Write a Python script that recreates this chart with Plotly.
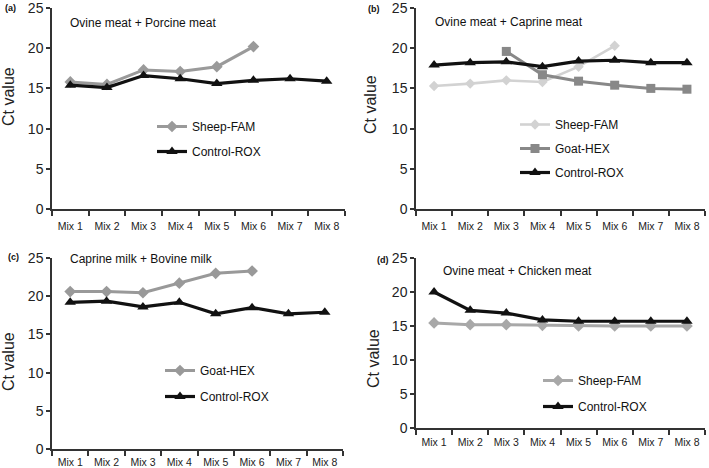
import plotly.graph_objects as go

categories = ["Mix 1", "Mix 2", "Mix 3", "Mix 4", "Mix 5", "Mix 6", "Mix 7", "Mix 8"]

# (a) Ovine meat + Porcine meat
a_sheep = [15.8, 15.5, 17.3, 17.1, 17.7, 20.2, None, None]
a_control = [15.4, 15.1, 16.6, 16.2, 15.6, 16.0, 16.2, 15.9]

# (b) Ovine meat + Caprine meat
b_sheep = [15.3, 15.6, 16.0, 15.8, 17.7, 20.3, None, None]
b_goat = [None, None, 19.6, 16.7, 15.9, 15.4, 15.0, 14.9]
b_control = [17.9, 18.2, 18.3, 17.7, 18.4, 18.5, 18.2, 18.2]

# (c) Caprine milk + Bovine milk
c_goat = [20.6, 20.6, 20.45, 21.7, 23.0, 23.3, None, None]
c_control = [19.2, 19.35, 18.6, 19.2, 17.7, 18.5, 17.7, 17.9]

# (d) Ovine meat + Chicken meat
d_sheep = [15.45, 15.2, 15.2, 15.1, 15.0, 15.0, 15.0, 15.0]
d_control = [20.0, 17.3, 16.9, 15.9, 15.7, 15.7, 15.7, 15.7]

y_ticks = [0, 5, 10, 15, 20, 25]
FONT = "Liberation Sans, Arial, sans-serif"
W, H = 709, 468

fig = go.Figure()

def add(name, y, color, symbol, size, width, xa, ya, legend):
    fig.add_trace(go.Scatter(
        x=categories, y=y, name=name, mode="lines+markers",
        line=dict(color=color, width=width),
        marker=dict(symbol=symbol, size=size, color=color),
        xaxis=xa, yaxis=ya, legend=legend, legendgroup=legend + name,
        connectgaps=False,
    ))

add("Sheep-FAM", a_sheep, "#9a9a9a", "diamond", 9, 3, "x", "y", "legend")
add("Control-ROX", a_control, "#111111", "triangle-up", 10, 3.2, "x", "y", "legend")

add("Sheep-FAM", b_sheep, "#d2d2d2", "diamond", 8, 2.6, "x2", "y2", "legend2")
add("Goat-HEX", b_goat, "#888888", "square", 9, 3, "x2", "y2", "legend2")
add("Control-ROX", b_control, "#111111", "triangle-up", 10, 3.2, "x2", "y2", "legend2")

add("Goat-HEX", c_goat, "#999999", "diamond", 9, 3, "x3", "y3", "legend3")
add("Control-ROX", c_control, "#111111", "triangle-up", 10, 3.2, "x3", "y3", "legend3")

add("Sheep-FAM", d_sheep, "#a8a8a8", "diamond", 9, 3, "x4", "y4", "legend4")
add("Control-ROX", d_control, "#111111", "triangle-up", 10, 3.2, "x4", "y4", "legend4")

# panel geometry in pixels: (left, right, top, bottom)
panels = {
    "": (52, 345, 8, 209),
    "2": (416, 705, 8, 209),
    "3": (52, 343, 258, 449),
    "4": (416, 705, 258, 428),
}
standoffs = {"": 7, "2": 7, "3": 3, "4": 4}

layout = {}
for k, (l, r, t, b) in panels.items():
    layout["xaxis" + k] = dict(
        domain=[l / W, r / W], anchor="y" + k, type="category",
        categoryorder="array", categoryarray=categories,
        range=[-0.5, 7.5], showline=True, linecolor="#333333", linewidth=1.5,
        ticks="outside", tickson="boundaries", ticklen=5, tickcolor="#333333",
        tickwidth=1.5, showgrid=False, zeroline=False, tickangle=0, automargin=False,
        tickfont=dict(family=FONT, size=10.5, color="#222222"),
        ticklabelstandoff=standoffs[k], ticklabeloverflow="allow",
    )
    layout["yaxis" + k] = dict(
        domain=[1 - b / H, 1 - t / H], anchor="x" + k, automargin=False,
        range=[0, 25], tickvals=y_ticks, showline=True, linecolor="#333333",
        linewidth=1.5, ticks="outside", ticklen=4, tickcolor="#333333",
        tickwidth=1.5, showgrid=False, zeroline=False, ticklabeloverflow="allow",
        tickfont=dict(family=FONT, size=14, color="#222222"),
    )

leg = dict(font=dict(family=FONT, size=12, color="#111111"), bgcolor="rgba(0,0,0,0)",
           xanchor="left", yanchor="top", traceorder="grouped", itemwidth=30)
layout["legend"] = dict(leg, x=152 / W, y=1 - 112 / H, tracegroupgap=6)
layout["legend2"] = dict(leg, x=515 / W, y=1 - 110 / H, tracegroupgap=5)
layout["legend3"] = dict(leg, x=160 / W, y=1 - 356 / H, tracegroupgap=7)
layout["legend4"] = dict(leg, x=538 / W, y=1 - 366 / H, tracegroupgap=7)

annots = [
    ("Ovine meat + Porcine meat", 68, 23),
    ("Ovine meat + Caprine meat", 433, 22),
    ("Caprine milk + Bovine milk", 68, 259),
    ("Ovine meat + Chicken meat", 441, 271),
]
annotations = []
for text, x, y in annots:
    annotations.append(dict(text=text, x=x / W, y=1 - y / H, xref="paper", yref="paper",
                            xanchor="left", yanchor="middle", showarrow=False,
                            font=dict(family=FONT, size=12, color="#111111")))
for text, x, y in [("(a)", 3, 8), ("(b)", 366, 9), ("(c)", 6, 257), ("(d)", 375, 260)]:
    annotations.append(dict(text="<b>" + text + "</b>", x=x / W, y=1 - y / H, xref="paper",
                            yref="paper", xanchor="left", yanchor="middle", showarrow=False,
                            font=dict(family=FONT, size=9, color="#111111")))
for x, y in [(8, 97), (371, 105), (8, 362), (373, 358)]:
    annotations.append(dict(text="Ct value", x=x / W, y=1 - y / H, xref="paper", yref="paper",
                            xanchor="center", yanchor="middle", textangle=-90, showarrow=False,
                            font=dict(family=FONT, size=16, color="#222222")))

fig.update_layout(
    width=W, height=H, margin=dict(l=0, r=0, t=0, b=0, autoexpand=False),
    paper_bgcolor="white", plot_bgcolor="white", showlegend=True,
    annotations=annotations, **layout,
)

post = (
    "document.documentElement.style.margin='0';"
    "document.documentElement.style.padding='0';"
    "document.documentElement.style.overflow='hidden';"
    "document.body.style.margin='0';"
    "document.body.style.padding='0';"
    "document.body.style.overflow='hidden';"
    "var gd=document.getElementById('{plot_id}');"
    "gd.style.position='fixed';gd.style.top='0px';gd.style.left='0px';"
)

fig.write_html("out.html", config={"displayModeBar": False}, post_script=post)
